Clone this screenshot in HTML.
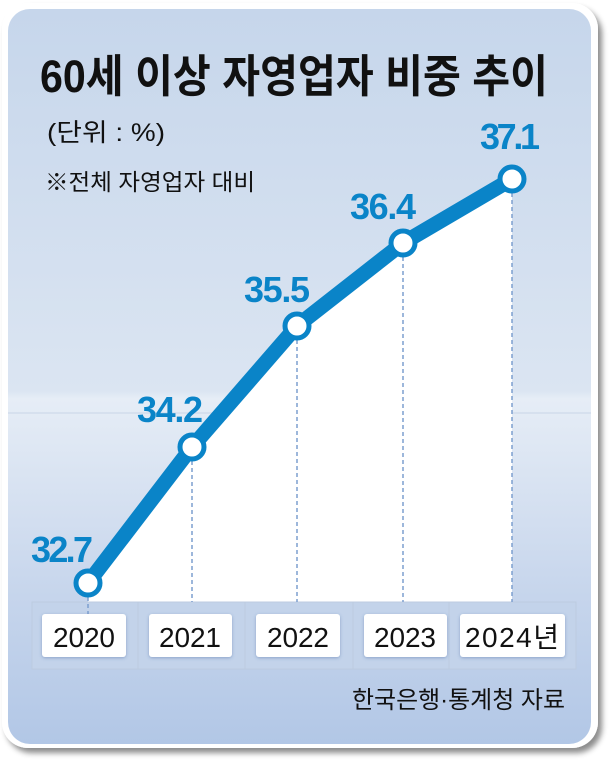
<!DOCTYPE html>
<html><head><meta charset="utf-8"><style>
body{margin:0;width:615px;height:769px;background:#fff;overflow:hidden;font-family:"Liberation Sans","Noto Sans CJK KR",sans-serif}
</style></head><body>
<svg width="615" height="769" viewBox="0 0 615 769" xmlns="http://www.w3.org/2000/svg">
<defs>
<linearGradient id="bg" x1="0" y1="0" x2="0" y2="1">
<stop offset="0" stop-color="#c6d6eb"/>
<stop offset="0.52" stop-color="#dbe5f2"/>
<stop offset="0.53" stop-color="#e6edf6"/>
<stop offset="0.8" stop-color="#c6d5ec"/>
<stop offset="1" stop-color="#b2c7e6"/>
</linearGradient>
<filter id="sh" x="-5%" y="-5%" width="115%" height="115%"><feDropShadow dx="4" dy="5" stdDeviation="3" flood-color="#000" flood-opacity="0.45"/></filter>
<filter id="bs" x="-10%" y="-10%" width="130%" height="140%"><feDropShadow dx="0" dy="1" stdDeviation="1.5" flood-color="#3a5a99" flood-opacity="0.4"/></filter>
</defs>
<rect x="2" y="3" width="596" height="745" rx="26" fill="#fff" filter="url(#sh)"/>
<rect x="8" y="9" width="583" height="735" rx="22" fill="url(#bg)"/>
<line x1="8" y1="413" x2="591" y2="413" stroke="#c9d5e6" stroke-width="1"/>
<polygon points="88,583 192,447 297,326 403,243 512,179 512,602 88,602" fill="#fff"/>
<rect x="32" y="602" width="544" height="67" fill="#c3d3ea" stroke="#bccbe0"/>
<g stroke="#bccbe0"><line x1="138" y1="602" x2="138" y2="669"/><line x1="245" y1="602" x2="245" y2="669"/><line x1="353" y1="602" x2="353" y2="669"/><line x1="449" y1="602" x2="449" y2="669"/></g>
<g stroke="#7d9fcf" stroke-width="1.5" stroke-dasharray="4,3">
<line x1="88" y1="583" x2="88" y2="614"/><line x1="192" y1="447" x2="192" y2="602"/><line x1="297" y1="326" x2="297" y2="602"/><line x1="403" y1="243" x2="403" y2="602"/><line x1="512" y1="179" x2="512" y2="602"/>
</g>
<g fill="#fff" filter="url(#bs)">
<rect x="42" y="614" width="84" height="43" rx="3"/><rect x="149" y="614" width="83" height="43" rx="3"/><rect x="256" y="614" width="84" height="43" rx="3"/><rect x="364" y="614" width="83" height="43" rx="3"/><rect x="460" y="614" width="105" height="43" rx="3"/>
</g>
<g font-size="28" fill="#111" text-anchor="middle" lengthAdjust="spacingAndGlyphs">
<text x="84" y="647" textLength="62">2020</text><text x="190" y="647" textLength="62">2021</text><text x="298" y="647" textLength="62">2022</text><text x="405" y="647" textLength="62">2023</text><text x="512" y="647" textLength="94">2024년</text>
</g>
<polyline points="88,583 192,447 297,326 403,243 512,179" fill="none" stroke="#0a84c8" stroke-width="15" stroke-linejoin="round"/>
<g fill="#fff" stroke="#0a84c8" stroke-width="5">
<circle cx="88" cy="583" r="12"/><circle cx="192" cy="447" r="12"/><circle cx="297" cy="326" r="12"/><circle cx="403" cy="243" r="12"/><circle cx="512" cy="179" r="12"/>
</g>
<g font-size="36" font-weight="bold" fill="#0a84c8" text-anchor="middle" lengthAdjust="spacingAndGlyphs">
<text x="62" y="562" textLength="62">32.7</text><text x="170" y="422" textLength="66">34.2</text><text x="277" y="302" textLength="66">35.5</text><text x="383" y="219" textLength="66">36.4</text><text x="510" y="149" textLength="60">37.1</text>
</g>
<text x="40" y="92" font-size="45" font-weight="bold" fill="#111" textLength="508" lengthAdjust="spacingAndGlyphs">60세 이상 자영업자 비중 추이</text>
<text x="47" y="141" font-size="25" fill="#111" textLength="118" lengthAdjust="spacingAndGlyphs">(단위 : %)</text>
<text x="45" y="190" font-size="23" fill="#111" textLength="210" lengthAdjust="spacingAndGlyphs">※전체 자영업자 대비</text>
<text x="565" y="708" font-size="24" fill="#111" text-anchor="end" textLength="213" lengthAdjust="spacingAndGlyphs">한국은행·통계청 자료</text>
</svg>
</body></html>
